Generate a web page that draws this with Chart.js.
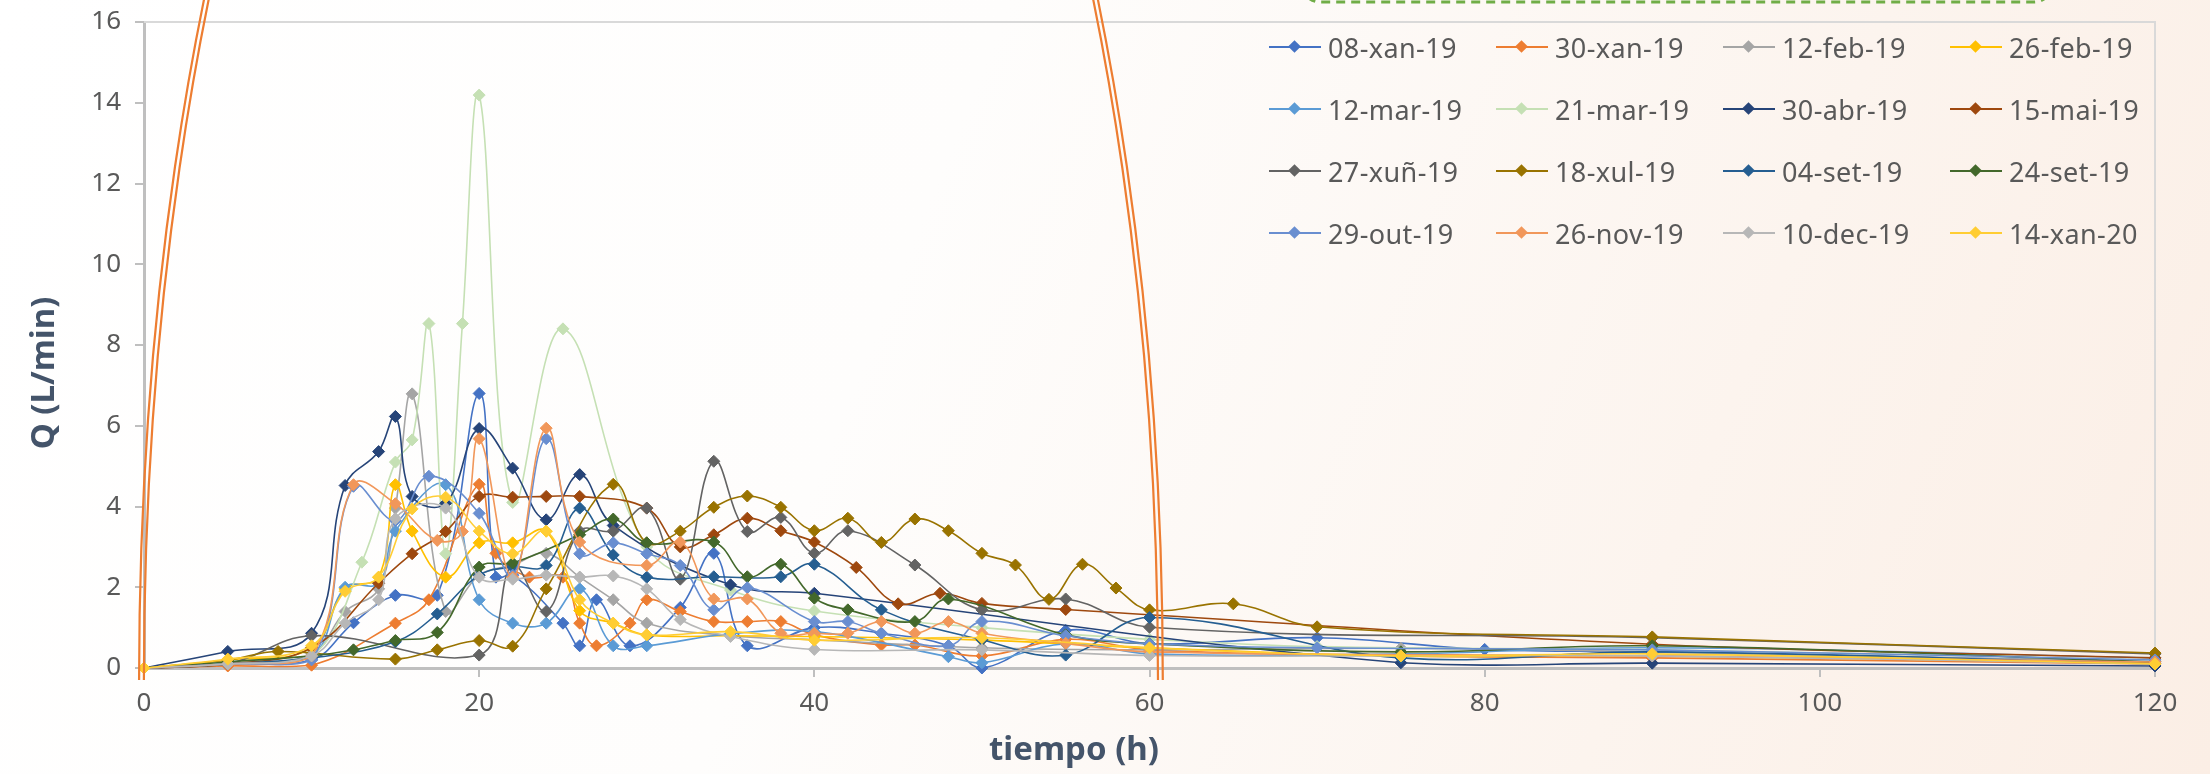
<!DOCTYPE html>
<html>
<head>
<meta charset="utf-8">
<script src="https://cdn.jsdelivr.net/npm/chart.js@4"></script>
<style>
  html, body { margin: 0; padding: 0; }
  body {
    width: 2210px; height: 774px; overflow: hidden; position: relative;
    background: linear-gradient(112deg, #ffffff 0%, #fefdfc 40%, #fcf4ee 75%, #fbeee5 100%);
    font-family: 'Noto Sans', sans-serif;
  }
  #chart { position: absolute; left: 0; top: 0; }
  #legend {
    position: absolute; left: 1269px; top: 16px;
    display: grid; grid-template-columns: repeat(4, 227px); grid-auto-rows: 62px;
  }
  .item { display: flex; align-items: center; font-size: 27px; letter-spacing: 0.4px; color: #595959; white-space: nowrap; }
  .sym { position: relative; width: 52px; height: 2px; margin-right: 7px; }
  .sym i { position: absolute; left: 21px; top: -4px; width: 9px; height: 9px; transform: rotate(45deg); }
</style>
</head>
<body>
<canvas id="chart" width="2210" height="774"></canvas>
<div id="legend"></div>
<script>
// caudal Q (L/min) vs tiempo (h), [x, y] pairs per campaign
const s08xan19 = [[0,0],[5,0.1],[10,0.2],[12.5,1.12],[15,1.8],[17.5,1.8],[20,6.8],[21,2.25],[22,2.3],[25,1.11],[26,0.55],[27,1.69],[29,0.55],[32,1.5],[34,2.84],[36,0.55],[40,1.0],[44,0.86],[48,0.55],[50,0],[55,0.93],[60,0.6],[70,0.75],[80,0.46],[90,0.4],[120,0.15]];
const s30xan19 = [[0,0],[5,0.05],[10,0.07],[15,1.11],[17,1.69],[20,4.55],[21,2.84],[23,2.25],[25,2.25],[26,1.11],[27,0.55],[29,1.11],[30,1.69],[32,1.4],[34,1.15],[36,1.15],[38,1.15],[40,0.82],[44,0.57],[46,0.57],[50,0.3],[55,0.71],[60,0.45],[75,0.3],[90,0.25],[120,0.1]];
const s12feb19 = [[0,0],[5,0.1],[10,0.35],[12,1.4],[14,1.96],[15,3.96],[16,6.79],[18,1.4],[20,2.3],[22,2.55],[24,2.84],[26,2.25],[28,1.69],[30,1.11],[35,0.8],[40,0.7],[50,0.5],[60,0.45],[75,0.49],[90,0.4],[120,0.15]];
const s26feb19 = [[0,0],[5,0.2],[10,0.5],[12,1.96],[14,2.25],[15,4.54],[16,3.39],[18,2.25],[20,3.1],[22,3.1],[24,3.39],[26,1.42],[28,1.11],[30,0.82],[35,0.8],[40,0.78],[50,0.69],[60,0.5],[75,0.3],[90,0.3],[120,0.12]];
const s12mar19 = [[0,0],[5,0.1],[10,0.3],[12,2.0],[14,2.1],[15,3.39],[18,4.54],[20,1.69],[22,1.11],[24,1.11],[26,1.96],[28,0.55],[30,0.55],[35,0.85],[40,0.9],[48,0.28],[50,0.13],[55,0.6],[60,0.35],[75,0.35],[90,0.5],[120,0.25]];
const s21mar19 = [[0,0],[5,0.1],[10,0.3],[13,2.62],[15,5.1],[16,5.65],[17,8.53],[18,2.83],[19,8.53],[20,14.19],[22,4.1],[25,8.4],[30,3.0],[35,1.93],[40,1.41],[50,1.0],[60,0.71],[70,0.53],[90,0.45],[120,0.2]];
const s30abr19 = [[0,0],[5,0.41],[10,0.86],[12,4.52],[14,5.36],[15,6.23],[16,4.25],[18,4.08],[20,5.93],[22,4.95],[24,3.67],[26,4.79],[28,3.53],[35,2.06],[40,1.85],[75,0.13],[90,0.12],[120,0.05]];
const s15mai19 = [[0,0],[5,0.1],[10,0.5],[14,2.1],[16,2.83],[18,3.38],[20,4.25],[22,4.23],[24,4.25],[26,4.25],[30,3.96],[32,3.0],[34,3.3],[36,3.71],[38,3.4],[40,3.12],[42.5,2.49],[45,1.59],[47.5,1.85],[50,1.6],[55,1.45],[90,0.59],[120,0.25]];
const s27xun19 = [[0,0],[5,0.1],[10,0.8],[20,0.32],[22,2.54],[24,1.4],[26,3.39],[28,3.39],[30,3.96],[32,2.2],[34,5.12],[36,3.38],[38,3.73],[40,2.84],[42,3.4],[46,2.55],[50,1.44],[55,1.71],[60,1.01],[90,0.75],[120,0.35]];
const s18xul19 = [[0,0],[5,0.2],[8,0.41],[15,0.22],[17.5,0.45],[20,0.68],[22,0.54],[24,1.96],[28,4.55],[30,3.1],[32,3.39],[34,3.98],[36,4.26],[38,3.98],[40,3.4],[42,3.71],[44,3.11],[46,3.69],[48,3.4],[50,2.84],[52,2.55],[54,1.7],[56,2.57],[58,1.98],[60,1.44],[65,1.59],[70,1.02],[90,0.77],[120,0.37]];
const s04set19 = [[0,0],[5,0.1],[10,0.25],[15,0.65],[17.5,1.34],[20,2.3],[22,2.5],[24,2.54],[26,3.96],[28,2.8],[30,2.25],[34,2.26],[38,2.26],[40,2.57],[44,1.44],[50,0.7],[55,0.32],[60,1.25],[75,0.25],[90,0.4],[120,0.1]];
const s24set19 = [[0,0],[5,0.15],[10,0.3],[12.5,0.45],[15,0.68],[17.5,0.88],[20,2.5],[22,2.6],[26,3.3],[28,3.69],[30,3.1],[34,3.12],[36,2.26],[38,2.57],[40,1.73],[42,1.44],[46,1.15],[48,1.71],[55,0.82],[60,0.6],[75,0.4],[90,0.55],[120,0.15]];
const s29out19 = [[0,0],[5,0.1],[10,0.2],[12.5,4.5],[15,3.65],[17,4.75],[20,3.83],[22,2.3],[24,5.68],[26,2.83],[28,3.1],[30,2.83],[32,2.54],[34,1.44],[36,1.99],[40,1.15],[42,1.15],[44,0.86],[48,0.55],[50,1.15],[55,0.8],[60,0.6],[70,0.5],[90,0.45],[120,0.2]];
const s26nov19 = [[0,0],[5,0.1],[10,0.3],[12.5,4.54],[15,4.07],[17.5,3.16],[19,3.38],[20,5.68],[22,2.25],[24,5.94],[26,3.12],[30,2.54],[32,3.12],[34,1.71],[36,1.71],[38,0.86],[40,0.86],[42,0.86],[44,1.15],[46,0.86],[48,1.15],[50,0.86],[55,0.61],[60,0.4],[90,0.3],[120,0.15]];
const s10dec19 = [[0,0],[5,0.1],[10,0.3],[12,1.11],[14,1.69],[15,3.7],[18,3.96],[20,2.25],[22,2.2],[24,2.3],[26,2.25],[28,2.28],[30,1.96],[32,1.2],[35,0.78],[40,0.46],[50,0.45],[60,0.31],[75,0.3],[90,0.3],[120,0.1]];
const s14xan20 = [[0,0],[5,0.22],[10,0.55],[12,1.9],[14,2.25],[16,3.94],[18,4.23],[20,3.39],[22,2.83],[24,3.39],[26,1.69],[28,1.11],[30,0.82],[35,0.9],[40,0.69],[50,0.75],[60,0.5],[75,0.3],[90,0.35],[120,0.1]];

const seriesNames = ['08-xan-19','30-xan-19','12-feb-19','26-feb-19','12-mar-19','21-mar-19','30-abr-19','15-mai-19',
                     '27-xuñ-19','18-xul-19','04-set-19','24-set-19','29-out-19','26-nov-19','10-dec-19','14-xan-20'];
const seriesData = [s08xan19, s30xan19, s12feb19, s26feb19, s12mar19, s21mar19, s30abr19, s15mai19,
                    s27xun19, s18xul19, s04set19, s24set19, s29out19, s26nov19, s10dec19, s14xan20];
const xTicks = [0, 20, 40, 60, 80, 100, 120];
const yTicks = [0, 2, 4, 6, 8, 10, 12, 14, 16];

const colors = ['#4472C4','#ED7D31','#A5A5A5','#FFC000','#5B9BD5','#C5E0B4','#264478','#9E480E',
                '#636363','#997300','#255E91','#43682B','#698ED0','#F1975A','#B7B7B7','#FFCD33'];
const fontFamily = "'Noto Sans', sans-serif";
const tickFont = { size: 26, family: fontFamily };

// decoration: frame, orange double arch, green dashed box, axis titles
const decor = {
  id: 'decor',
  beforeDatasetsDraw(chart) {
    const { ctx, chartArea: a } = chart;
    ctx.save();
    ctx.strokeStyle = '#D9D9D9';
    ctx.lineWidth = 2;
    ctx.beginPath();
    ctx.moveTo(a.left, a.top);
    ctx.lineTo(a.right, a.top);
    ctx.lineTo(a.right, a.bottom);
    ctx.stroke();
    ctx.restore();
  },
  afterDatasetsDraw(chart) {
    const { ctx, scales: { x, y } } = chart;
    // half ellipse in data units: centre (30.25, -0.3), radii 30.4 x 34.5
    const cx = x.getPixelForValue(30.25);
    const cy = y.getPixelForValue(-0.3);
    const rx = x.getPixelForValue(30.25 + 30.4) - cx;
    const ry = cy - y.getPixelForValue(-0.3 + 34.5);
    ctx.save();
    ctx.strokeStyle = '#ED7D31';
    ctx.lineWidth = 2.2;
    [-2.4, 2.4].forEach(d => {
      ctx.beginPath();
      ctx.ellipse(cx, cy, rx + d, ry + d, 0, Math.PI, 2 * Math.PI);
      ctx.stroke();
    });
    ctx.restore();
  },
  afterDraw(chart) {
    const { ctx, chartArea: a } = chart;
    ctx.save();
    // green dashed box peeking from the top
    ctx.strokeStyle = '#70AD47';
    ctx.lineWidth = 3;
    ctx.setLineDash([9, 6]);
    ctx.beginPath();
    ctx.roundRect(1302, -60, 750, 62, 18);
    ctx.stroke();
    ctx.setLineDash([]);
    // axis titles
    ctx.fillStyle = '#44546A';
    ctx.font = "bold 33px " + fontFamily;
    ctx.textAlign = 'center';
    ctx.textBaseline = 'middle';
    ctx.fillText('tiempo (h)', a.left + 930, a.bottom + 83);
    ctx.translate(45, a.top + 351);
    ctx.rotate(-Math.PI / 2);
    ctx.fillText('Q (L/min)', 0, 0);
    ctx.restore();
  }
};

const chart = new Chart(document.getElementById('chart'), {
  type: 'scatter',
  data: {
    datasets: seriesData.map((pts, i) => ({
      label: seriesNames[i],
      data: pts.map(p => ({ x: p[0], y: p[1] })),
      showLine: true,
      tension: 0.4,
      borderColor: colors[i],
      backgroundColor: colors[i],
      borderWidth: 1.6,
      pointStyle: 'rectRot',
      pointRadius: 6,
      pointBorderWidth: 1,
      clip: false,
      order: seriesNames.length - i
    }))
  },
  options: {
    responsive: false,
    animation: false,
    layout: { padding: { top: 22, right: 55, left: 0, bottom: 0 } },
    plugins: { legend: { display: false }, tooltip: { enabled: false } },
    scales: {
      x: {
        type: 'linear', min: 0, max: 120,
        afterBuildTicks: s => { s.ticks = xTicks.map(v => ({ value: v })); },
        ticks: { color: '#595959', font: tickFont, padding: 11, maxRotation: 0 },
        grid: { drawOnChartArea: false, drawTicks: true, tickLength: 9, color: '#BFBFBF', lineWidth: 2 },
        border: { display: true, color: '#BFBFBF', width: 3 },
        afterFit: s => { s.height = 106; s.paddingLeft = 0; s.paddingRight = 0; }
      },
      y: {
        min: 0, max: 16,
        afterBuildTicks: s => { s.ticks = yTicks.map(v => ({ value: v })); },
        ticks: { color: '#595959', font: tickFont, padding: 14 },
        grid: { drawOnChartArea: false, drawTicks: true, tickLength: 9, color: '#BFBFBF', lineWidth: 2 },
        border: { display: true, color: '#BFBFBF', width: 3 },
        afterFit: s => { s.width = 144; s.paddingTop = 0; s.paddingBottom = 0; }
      }
    }
  },
  plugins: [decor]
});

// legend in four columns, built from the chart datasets
const legendBox = document.getElementById('legend');
chart.data.datasets.forEach(ds => {
  const item = document.createElement('div');
  item.className = 'item';
  item.innerHTML = '<span class="sym" style="background:' + ds.borderColor + '"><i style="background:' +
    ds.backgroundColor + '"></i></span><span>' + ds.label + '</span>';
  legendBox.appendChild(item);
});
</script>
</body>
</html>
